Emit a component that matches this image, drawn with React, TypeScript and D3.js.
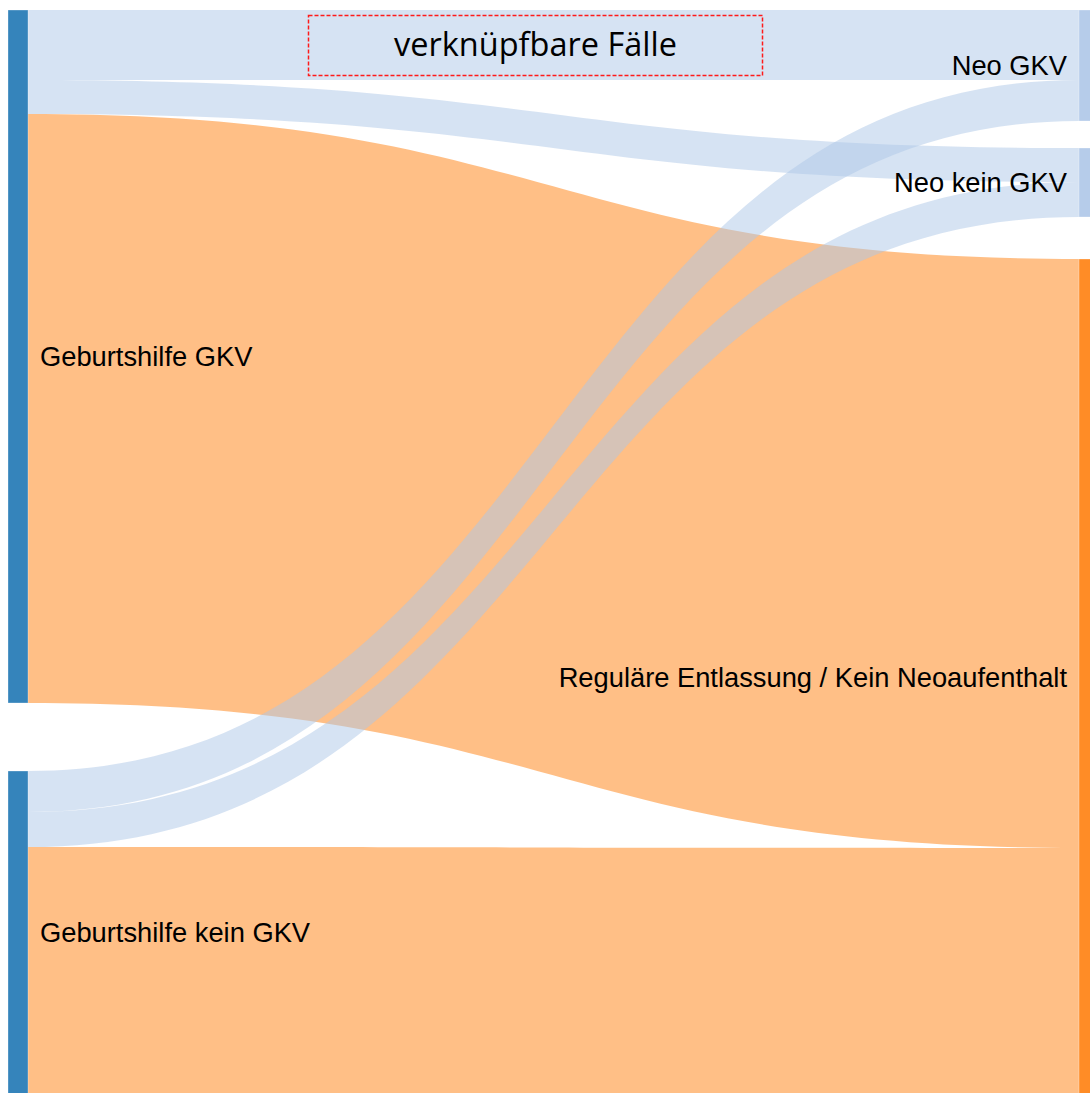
import React from "react";
import * as d3 from "d3";

// Nodes (column 0 = Geburtshilfe, column 1 = Neo / Entlassung)
const sourceNodes = ["Geburtshilfe GKV", "Geburtshilfe kein GKV"];
const targetNodes = ["Neo GKV", "Neo kein GKV", "Reguläre Entlassung / Kein Neoaufenthalt"];

// Flows (relative case counts)
const linkSources = [0, 0, 0, 1, 1, 1];
const linkTargets = [0, 1, 2, 0, 1, 2];
const linkValues = [70, 34, 589, 41, 35, 247];

const annotationText = "verknüpfbare Fälle";

type LinkDatum = {
  source: number;
  target: number;
  value: number;
  y0: number;
  y1: number;
  width: number;
};

const App: React.FC = () => {
  // Chart dimensions
  const width = 1090;
  const height = 1093;
  const nodeWidth = 20;
  const leftX = 8;
  const rightX = 1079;
  const top = 10;
  const bottom = 1094;
  const leftGaps = [68];
  const rightGaps = [27, 42];

  const nodeColor = (col: number, i: number) =>
    col === 0 ? "#1f77b4" : i === 2 ? "#ff7f0e" : "#aec7e8";
  const linkColor = (target: number) =>
    target === 2 ? "rgba(255,127,14,0.5)" : "rgba(174,199,232,0.5)";

  const links = linkValues.map((value, i) => ({
    source: linkSources[i],
    target: linkTargets[i],
    value,
  }));

  const sourceTotals = sourceNodes.map((_, i) =>
    d3.sum(links.filter((l) => l.source === i), (l) => l.value)
  );
  const targetTotals = targetNodes.map((_, i) =>
    d3.sum(links.filter((l) => l.target === i), (l) => l.value)
  );

  // Value -> pixel scale
  const total = d3.sum(sourceTotals);
  const k = d3
    .scaleLinear()
    .domain([0, total])
    .range([0, bottom - top - d3.sum(leftGaps)]);

  const stack = (totals: number[], gaps: number[]) => {
    let y = top;
    return totals.map((t, i) => {
      const y0 = y;
      const y1 = y0 + k(t);
      y = y1 + (gaps[i] ?? 0);
      return { y0, y1 };
    });
  };

  const leftNodes = stack(sourceTotals, leftGaps);
  const rightNodes = stack(targetTotals, rightGaps);

  // Offsets of each link within its nodes
  const srcOffset = leftNodes.map((n) => n.y0);
  const tgtOffset = rightNodes.map((n) => n.y0);
  const placed: LinkDatum[] = links.map((l) => ({ ...l, y0: 0, y1: 0, width: k(l.value) }));
  placed
    .slice()
    .sort((a, b) => a.source - b.source || a.target - b.target)
    .forEach((l) => {
      l.y0 = srcOffset[l.source];
      srcOffset[l.source] += l.width;
    });
  placed
    .slice()
    .sort((a, b) => a.target - b.target || a.source - b.source)
    .forEach((l) => {
      l.y1 = tgtOffset[l.target];
      tgtOffset[l.target] += l.width;
    });

  const x0 = leftX + nodeWidth;
  const x1 = rightX;
  const xi = d3.interpolateNumber(x0, x1);
  const linkPath = (l: LinkDatum) => {
    const p = d3.path();
    const xm = xi(0.5);
    p.moveTo(x0, l.y0);
    p.bezierCurveTo(xm, l.y0, xm, l.y1, x1, l.y1);
    p.lineTo(x1, l.y1 + l.width);
    p.bezierCurveTo(xm, l.y1 + l.width, xm, l.y0 + l.width, x0, l.y0 + l.width);
    p.closePath();
    return p.toString();
  };

  const labelFont = "'Liberation Sans', Arial, sans-serif";

  return (
    <svg
      width={width}
      height={height}
      viewBox={`0 0 ${width} ${height}`}
      style={{ position: "absolute", left: 0, top: 0, background: "#fff" }}
    >
      <g>
        {placed.map((l, i) => (
          <path key={i} d={linkPath(l)} fill={linkColor(l.target)} stroke="none" />
        ))}
      </g>
      <g>
        {leftNodes.map((n, i) => (
          <rect
            key={`l${i}`}
            x={leftX}
            y={n.y0}
            width={nodeWidth}
            height={n.y1 - n.y0}
            fill={nodeColor(0, i)}
            fillOpacity={0.9}
            stroke="rgba(255,255,255,0.6)"
            strokeWidth={0.5}
          />
        ))}
        {rightNodes.map((n, i) => (
          <rect
            key={`r${i}`}
            x={rightX}
            y={n.y0}
            width={nodeWidth}
            height={n.y1 - n.y0}
            fill={nodeColor(1, i)}
            fillOpacity={0.9}
            stroke="rgba(255,255,255,0.6)"
            strokeWidth={0.5}
          />
        ))}
      </g>
      <g fontFamily={labelFont} fontSize={27.3} fill="#000">
        {leftNodes.map((n, i) => (
          <text key={`lt${i}`} x={leftX + nodeWidth + 12} y={(n.y0 + n.y1) / 2} dy="0.35em">
            {sourceNodes[i]}
          </text>
        ))}
        {rightNodes.map((n, i) => (
          <text
            key={`rt${i}`}
            x={rightX - 12}
            y={(n.y0 + n.y1) / 2}
            dy="0.35em"
            textAnchor="end"
          >
            {targetNodes[i]}
          </text>
        ))}
      </g>
      <g>
        <rect
          x={308.5}
          y={15.5}
          width={454}
          height={60}
          fill="none"
          stroke="#ff1a1a"
          strokeWidth={1.5}
          strokeDasharray="4,2"
        />
        <text
          x={535.5}
          y={56}
          textAnchor="middle"
          fontFamily="'Open Sans', sans-serif"
          fontSize={32.5}
          fill="#000"
        >
          {annotationText}
        </text>
      </g>
    </svg>
  );
};

export default App;
